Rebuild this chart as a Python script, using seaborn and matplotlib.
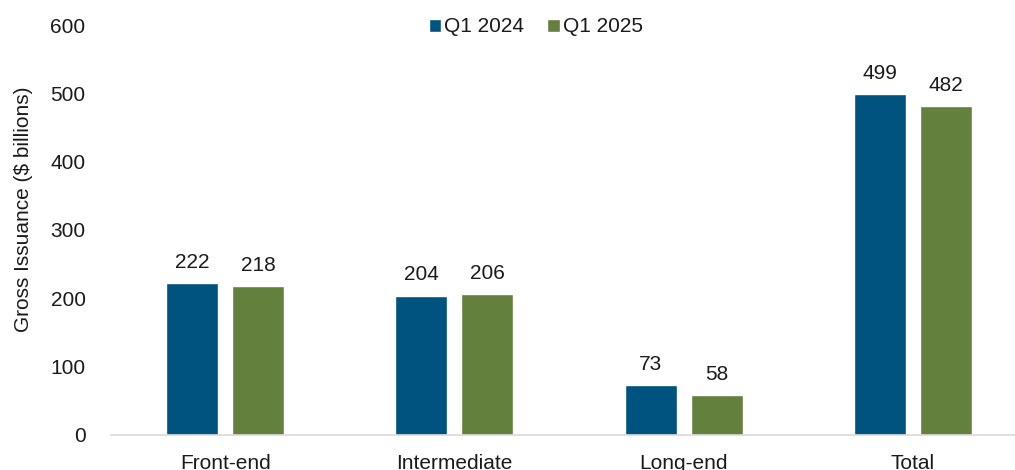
import matplotlib
matplotlib.use("Agg")
import matplotlib.pyplot as plt
import seaborn as sns
import pandas as pd

# Gross issuance by maturity bucket, $ billions
categories = ["Front-end", "Intermediate", "Long-end", "Total"]
q1_2024 = [222, 204, 73, 499]
q1_2025 = [218, 206, 58, 482]
series_names = ["Q1 2024", "Q1 2025"]
yticks = [0, 100, 200, 300, 400, 500, 600]

df = pd.DataFrame({
    "bucket": categories * 2,
    "value": q1_2024 + q1_2025,
    "period": [series_names[0]] * len(categories) + [series_names[1]] * len(categories),
})

sns.set_theme(style="white")
plt.rcParams["font.family"] = ["Liberation Sans", "DejaVu Sans"]

fig = plt.figure(figsize=(10.15, 4.7), dpi=100)
ax = fig.add_axes([0.1089, 0.0745, 0.9034, 0.8723])

palette = {"Q1 2024": "#00537F", "Q1 2025": "#63803D"}
sns.barplot(data=df, x="bucket", y="value", hue="period", order=categories,
            hue_order=series_names, palette=palette, width=0.576, gap=0.21,
            saturation=1, ax=ax, legend=True)

for cont in ax.containers:
    ax.bar_label(cont, fmt="%d", padding=8, fontsize=15, color="#1a1a1a")

ax.set_ylim(0, 600)
ax.set_yticks(yticks)
ax.set_xlim(-0.5, len(categories) - 0.5)
ax.set_xlabel("")
ax.set_ylabel("Gross Issuance ($ billions)", fontsize=15, color="#1a1a1a")
ax.yaxis.set_label_coords(-0.0845, 0.551)

for side in ["top", "right", "left"]:
    ax.spines[side].set_visible(False)
ax.spines["bottom"].set_color("#D9D9D9")
ax.spines["bottom"].set_linewidth(1.2)

ax.tick_params(axis="y", length=0, pad=18, labelsize=15, labelcolor="#1a1a1a")
ax.tick_params(axis="x", length=0, pad=14, labelsize=15, labelcolor="#1a1a1a")

handles, labels = ax.get_legend_handles_labels()
ax.legend_.remove()
fig.legend(handles, labels, loc="center", bbox_to_anchor=(0.528, 1 - 27 / 470),
           ncol=2, frameon=False, fontsize=15, handlelength=0.6, handleheight=0.6,
           handletextpad=0.15, columnspacing=1.1, labelcolor="#1a1a1a")

fig.savefig("out.png", dpi=100)
